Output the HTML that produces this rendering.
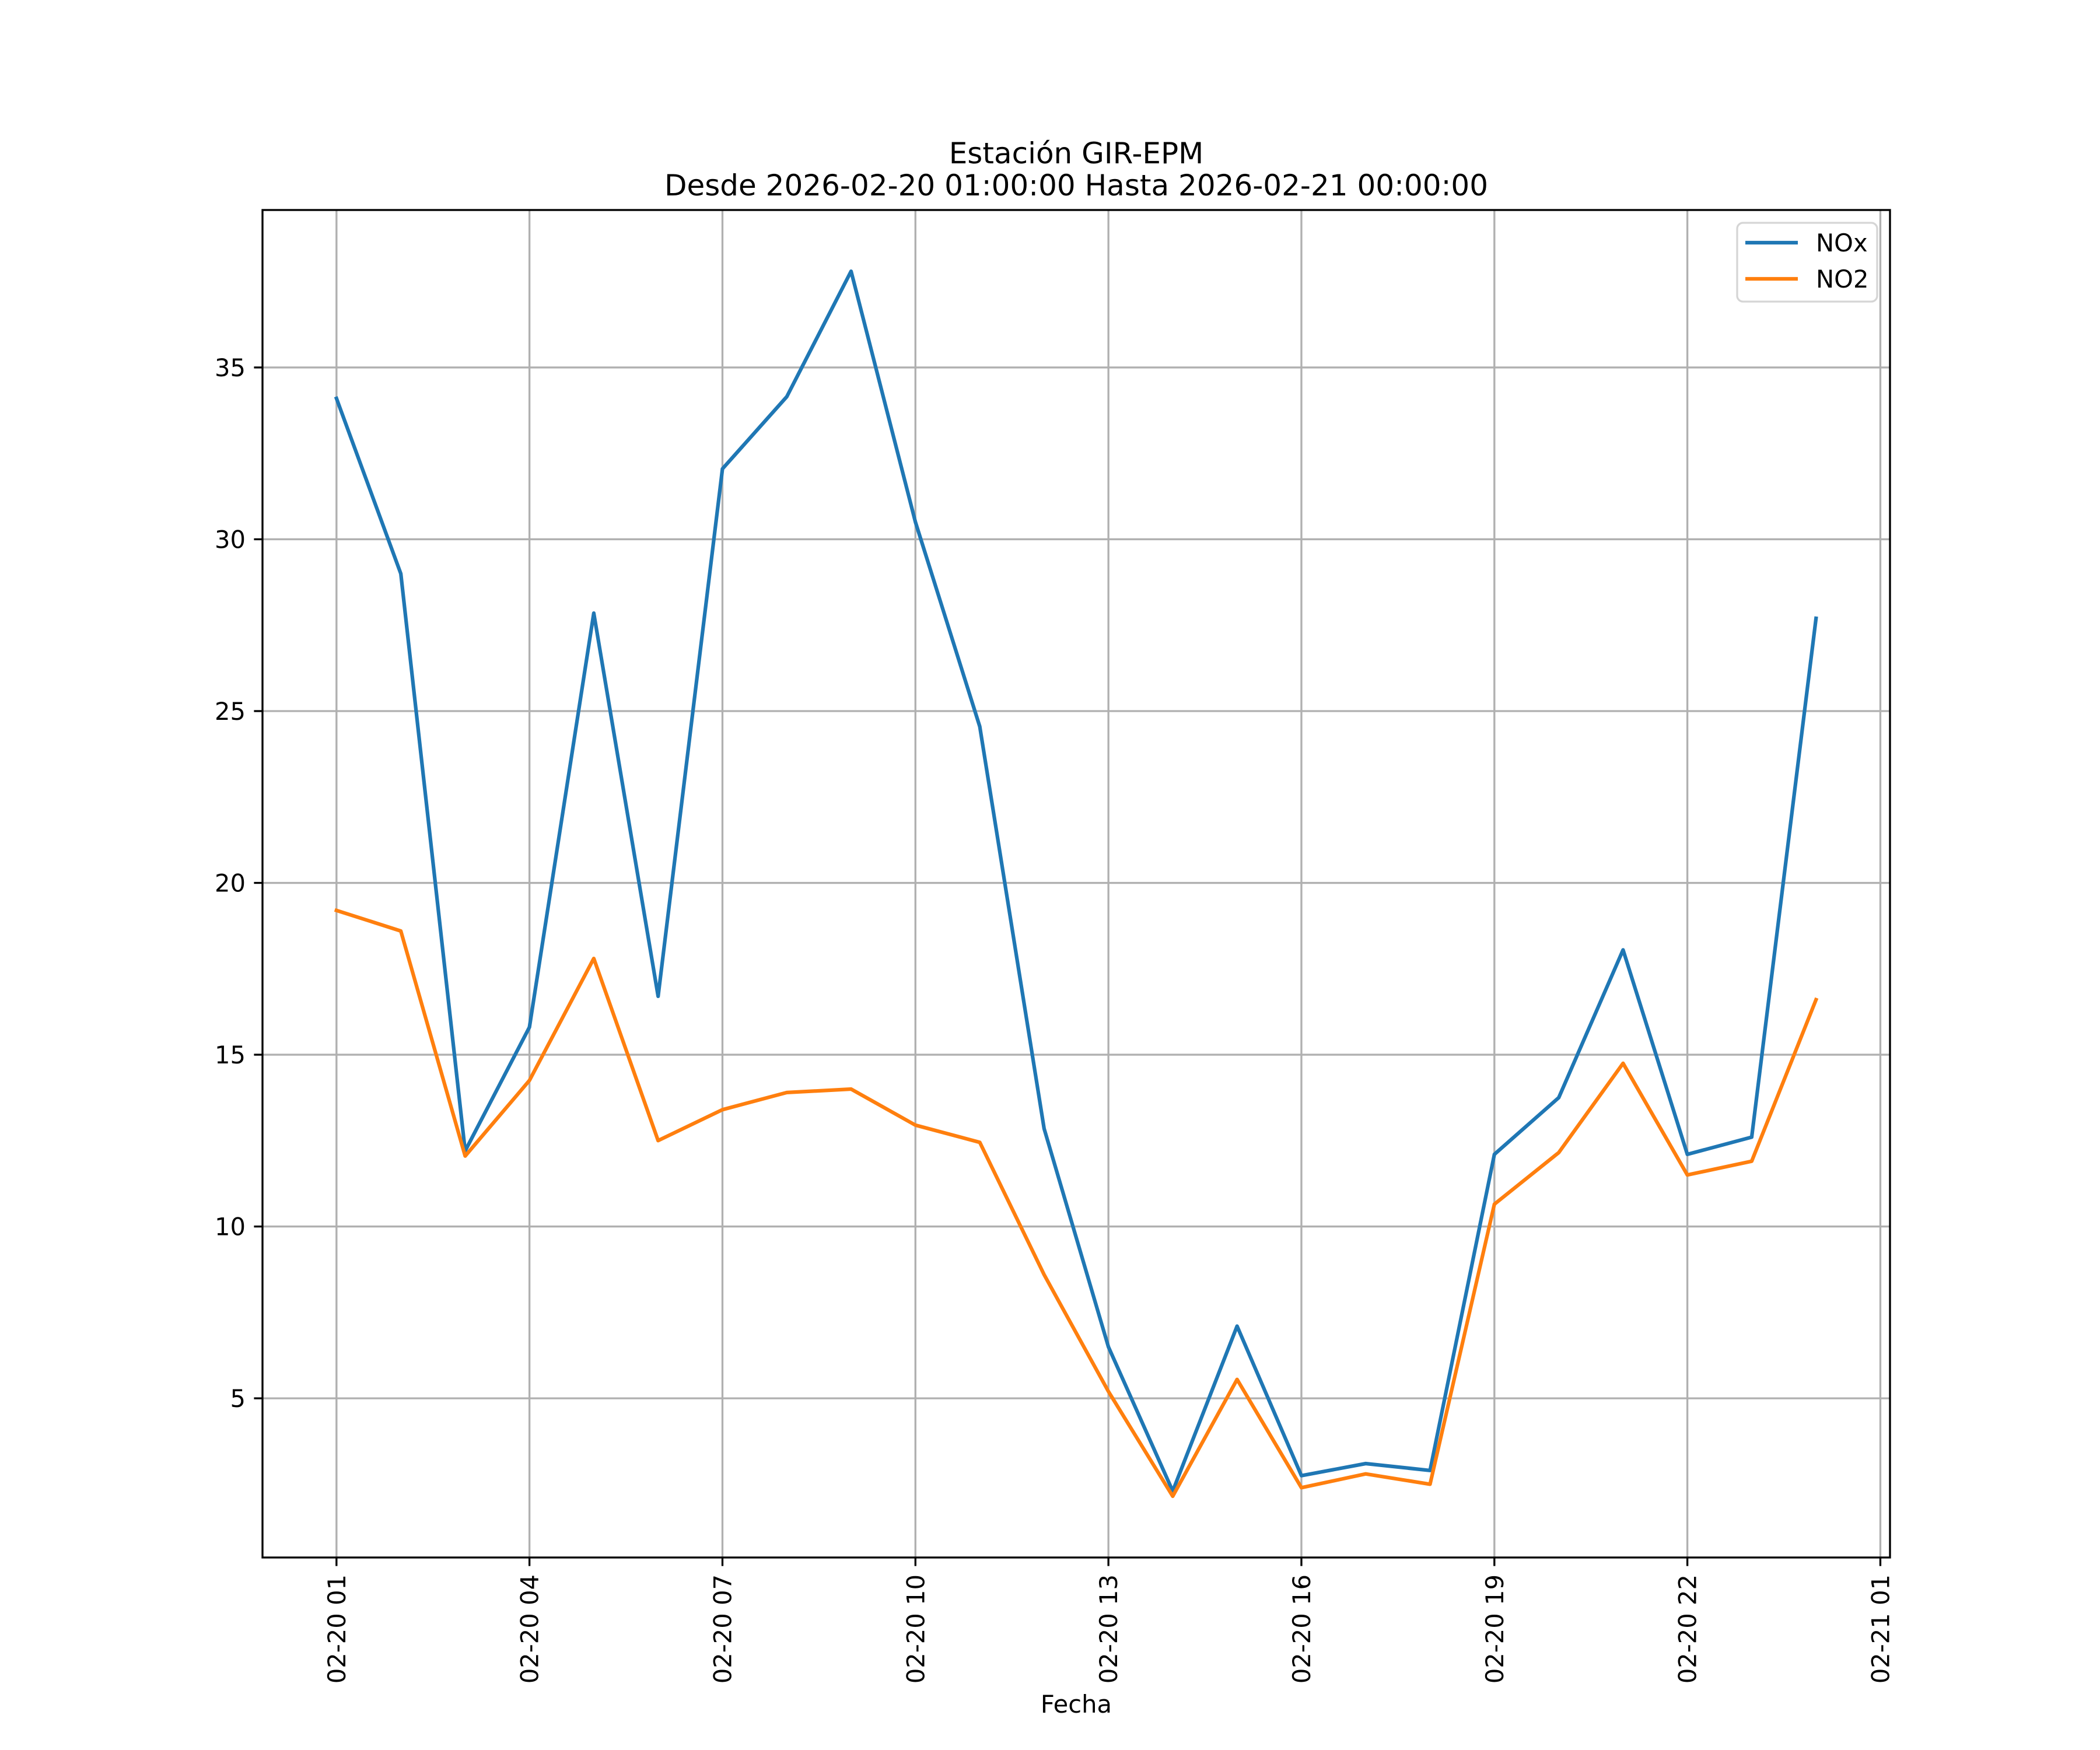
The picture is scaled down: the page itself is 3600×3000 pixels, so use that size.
<!DOCTYPE html>
<html><head><meta charset="utf-8"><style>
html,body{margin:0;padding:0;background:#fff;}
svg{display:block;font-family:"DejaVu Sans","Liberation Sans",sans-serif;}
</style></head><body>
<svg id="chart" width="3600" height="3000" viewBox="0 0 3600 3000" xmlns="http://www.w3.org/2000/svg">
<rect width="3600" height="3000" fill="#fff"/>
<text x="1845" y="280" font-size="50" text-anchor="middle">Estación GIR-EPM</text>
<text x="1845" y="335" font-size="50" text-anchor="middle">Desde 2026-02-20 01:00:00 Hasta 2026-02-21 00:00:00</text>
<g id="grid"></g>
<g id="series"></g>
<g id="axes"></g>
<text x="1845" y="2936" font-size="41.67" text-anchor="middle">Fecha</text>
<g>
<rect x="2978" y="382" width="240" height="135" rx="10" fill="#fff" fill-opacity="0.8" stroke="#d5d5d5" stroke-width="3.3"/>
<line x1="2992" y1="416" x2="3082" y2="416" stroke="#1f77b4" stroke-width="6.25"/>
<text x="3113" y="431" font-size="41.67">NOx</text>
<line x1="2992" y1="478" x2="3082" y2="478" stroke="#ff7f0e" stroke-width="6.25"/>
<text x="3113" y="493" font-size="41.67">NO2</text>
</g>
</svg>
<script>
const hours = [0,1,2,3,4,5,6,7,8,9,10,11,12,13,14,15,16,17,18,19,20,21,22,23];
const noxValues = [34.1,29.0,12.2,15.8,27.85,16.7,32.05,34.15,37.8,30.5,24.55,12.85,6.5,2.3,7.1,2.75,3.1,2.9,12.1,13.75,18.05,12.1,12.6,27.7];
const no2Values = [19.2,18.6,12.05,14.25,17.8,12.5,13.4,13.9,14.0,12.95,12.45,8.6,5.2,2.15,5.55,2.4,2.8,2.5,10.65,12.15,14.75,11.5,11.9,16.6];
const yTicks = [5,10,15,20,25,30,35];
const xTickHours = [0,3,6,9,12,15,18,21,24];
const xTickLabels = ["02-20 01","02-20 04","02-20 07","02-20 10","02-20 13","02-20 16","02-20 19","02-20 22","02-21 01"];

const NS = "http://www.w3.org/2000/svg";
const L = 450, R = 3240, T = 360, B = 2670;
const hMin = Math.min(...hours), hMax = Math.max(...hours);
const xm = (hMax - hMin) * 0.05;
const x0 = hMin - xm, x1 = hMax + xm;
const all = noxValues.concat(no2Values);
const vMin = Math.min(...all), vMax = Math.max(...all);
const ym = (vMax - vMin) * 0.05;
const y0 = vMin - ym, y1 = vMax + ym;
function xs(h){ return L + (h - x0) / (x1 - x0) * (R - L); }
function ys(v){ return B - (v - y0) / (y1 - y0) * (B - T); }
function mk(tag, attrs, parent){ const e = document.createElementNS(NS, tag); for (const k in attrs) e.setAttribute(k, attrs[k]); parent.appendChild(e); return e; }

const grid = document.getElementById('grid');
const axes = document.getElementById('axes');
const series = document.getElementById('series');

yTicks.forEach((v) => {
  const y = ys(v);
  const g = mk('line', {x1:L, x2:R, y1:y, y2:y, stroke:'#b0b0b0', 'stroke-width':3.33}, grid);
  
  
  const t = mk('line', {x1:L-14.6, x2:L, y1:y, y2:y, stroke:'#000', 'stroke-width':3.33}, axes);
  
  
  const lb = mk('text', {x:L-29, y:y+15, 'font-size':41.67, 'text-anchor':'end'}, axes);
  lb.textContent = String(v);
  
  
});
xTickHours.forEach((h, i) => {
  const x = xs(h);
  const g = mk('line', {x1:x, x2:x, y1:T, y2:B, stroke:'#b0b0b0', 'stroke-width':3.33}, grid);
  
  
  const t = mk('line', {x1:x, x2:x, y1:B, y2:B+14.6, stroke:'#000', 'stroke-width':3.33}, axes);
  
  
  const lb = mk('text', {x:0, y:0, 'font-size':41.67, 'text-anchor':'end', transform:'translate(' + (x+15) + ',' + (B+29) + ') rotate(-90)'}, axes);
  lb.textContent = xTickLabels[i];
  
  
});
const frame = mk('rect', {x:L, y:T, width:R-L, height:B-T, fill:'none', stroke:'#000', 'stroke-width':3.33}, axes);



function drawLine(vals, color, name){
  const pts = vals.map((v, i) => xs(hours[i]).toFixed(1) + ',' + ys(v).toFixed(1)).join(' ');
  const p = mk('polyline', {points:pts, fill:'none', stroke:color, 'stroke-width':6.25, 'stroke-linejoin':'round', 'stroke-linecap':'square'}, series);
  
  
}
drawLine(noxValues, '#1f77b4', 'nox-line');
drawLine(no2Values, '#ff7f0e', 'no2-line');
</script>
</body></html>
